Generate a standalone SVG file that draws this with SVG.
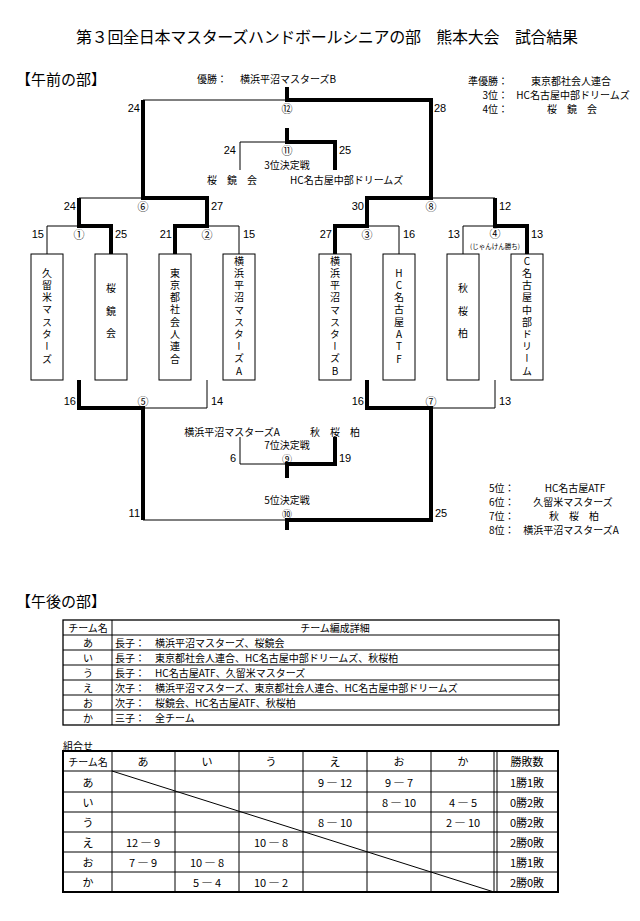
<svg xmlns="http://www.w3.org/2000/svg" width="640" height="921" viewBox="0 0 640 921">
<style>
text{font-family:"Noto Sans CJK JP","Liberation Sans",sans-serif;font-size:10px;fill:#000;dominant-baseline:central}
.n{font-family:"Liberation Sans",sans-serif;font-size:11px}
.c{font-size:11px;text-anchor:middle}
.m{text-anchor:middle}
.e{text-anchor:end}
.h{font-size:15px}
.v{writing-mode:vertical-rl;text-orientation:upright;text-anchor:middle;dominant-baseline:auto}
.thick{stroke:#000;stroke-width:4;fill:none;stroke-linejoin:miter}
.thin{stroke:#000;stroke-width:1;fill:none}
.box{fill:#fff;stroke:#000;stroke-width:1}
.grid{stroke:#000;stroke-width:1;fill:none}
</style>
<rect width="640" height="921" fill="#fff"/>
<text x="327" y="36" style="font-size:16px" class="m" textLength="502">第３回全日本マスターズハンドボールシニアの部　熊本大会　試合結果</text>

<g id="heading-am"><text x="16" y="78" class="h">【午前の部】</text></g>
<g id="results-top">
<text x="197" y="78">優勝：</text><text x="240" y="78">横浜平沼マスターズB</text>
<text x="508" y="80" class="e">準優勝：</text><text x="571" y="80" class="m">東京都社会人連合</text>
<text x="508" y="94" class="e">3位：</text><text x="573" y="94" class="m">HC名古屋中部ドリームズ</text>
<text x="508" y="108" class="e">4位：</text><text x="572" y="108" class="m">桜　鏡　会</text>
</g>

<g id="connectors">
<path class="thick" d="M335,254 V226 H367 V198 H431 V100 H287 V87"/>
<path class="thick" d="M175,254 V226 H207 V198 H143 V100"/>
<path class="thick" d="M111,254 V226 H79 V198"/>
<path class="thick" d="M527,254 V226 H495 V198"/>
<path class="thick" d="M335,170 V142 H287 V128"/>
<path class="thick" d="M79,380 V408 H143 V520"/>
<path class="thick" d="M367,380 V408 H431 V520 H287 V530"/>
<path class="thick" d="M335,437 V464 H287 V478"/>
<path class="thin" d="M143,100 H287"/>
<path class="thin" d="M240,170 V142 H287"/>
<path class="thin" d="M79,198 H143"/>
<path class="thin" d="M431,198 H495"/>
<path class="thin" d="M47,254 V226 H79"/>
<path class="thin" d="M207,226 H239 V254"/>
<path class="thin" d="M367,226 H399 V254"/>
<path class="thin" d="M463,254 V226 H495"/>
<path class="thin" d="M143,408 H207 V380"/>
<path class="thin" d="M431,408 H495 V380"/>
<path class="thin" d="M143,520 H287"/>
<path class="thin" d="M240,437 V464 H287"/>
</g>

<g id="match-labels">
<text x="287" y="108" class="c">⑫</text>
<text x="140" y="108" class="n e">24</text><text x="434" y="108" class="n">28</text>
<text x="287" y="150" class="c">⑪</text>
<text x="236" y="150" class="n e">24</text><text x="339" y="150" class="n">25</text>
<text x="287" y="164" class="m">3位決定戦</text>
<text x="232" y="179" class="m">桜　鏡　会</text>
<text x="290" y="179">HC名古屋中部ドリームズ</text>
<text x="143" y="206" class="c">⑥</text>
<text x="76" y="206" class="n e">24</text><text x="211" y="206" class="n">27</text>
<text x="431" y="206" class="c">⑧</text>
<text x="364" y="206" class="n e">30</text><text x="499" y="206" class="n">12</text>
<text x="79" y="234" class="c">①</text>
<text x="44" y="234" class="n e">15</text><text x="115" y="234" class="n">25</text>
<text x="207" y="234" class="c">②</text>
<text x="172" y="234" class="n e">21</text><text x="243" y="234" class="n">15</text>
<text x="367" y="234" class="c">③</text>
<text x="332" y="234" class="n e">27</text><text x="403" y="234" class="n">16</text>
<text x="495" y="233" class="c">④</text>
<text x="460" y="234" class="n e">13</text><text x="531" y="234" class="n">13</text>
<text x="495" y="246" style="font-size:6.5px" class="m">(じゃんけん勝ち)</text>
<text x="143" y="401" class="c">⑤</text>
<text x="76" y="401" class="n e">16</text><text x="211" y="401" class="n">14</text>
<text x="431" y="401" class="c">⑦</text>
<text x="364" y="401" class="n e">16</text><text x="499" y="401" class="n">13</text>
<text x="232" y="431" class="m">横浜平沼マスターズA</text>
<text x="335" y="431" class="m">秋　桜　柏</text>
<text x="287" y="444" class="m">7位決定戦</text>
<text x="287" y="458" class="m">⑨</text>
<text x="236" y="458" class="n e">6</text><text x="339" y="458" class="n">19</text>
<text x="287" y="499" class="m">5位決定戦</text>
<text x="287" y="513" class="m">⑩</text>
<text x="140" y="513" class="n e">11</text><text x="435" y="513" class="n">25</text>
</g>

<g id="team-1"><rect class="box" x="31" y="254" width="32" height="126"/><text class="v" x="47" y="317" letter-spacing="2.3">久留米マスターズ</text></g>
<g id="team-2"><rect class="box" x="95" y="254" width="32" height="126"/><text class="v" x="111" y="317" letter-spacing="12.5">桜鏡会</text></g>
<g id="team-3"><rect class="box" x="159" y="254" width="32" height="126"/><text class="v" x="175" y="317" letter-spacing="2.3">東京都社会人連合</text></g>
<g id="team-4"><rect class="box" x="223" y="254" width="32" height="126"/><text class="v" x="239" y="317" letter-spacing="2.2">横浜平沼マスターズA</text></g>
<g id="team-5"><rect class="box" x="319" y="254" width="32" height="126"/><text class="v" x="335" y="317" letter-spacing="2.2">横浜平沼マスターズB</text></g>
<g id="team-6"><rect class="box" x="383" y="254" width="32" height="126"/><text class="v" x="399" y="317" letter-spacing="2.3">HC名古屋ATF</text></g>
<g id="team-7"><rect class="box" x="447" y="254" width="32" height="126"/><text class="v" x="463" y="317" letter-spacing="12.5">秋桜柏</text></g>
<g id="team-8"><rect class="box" x="511" y="254" width="32" height="126"/><text class="v" x="527" y="317" letter-spacing="2.2">C名古屋中部ドリーム</text></g>

<g id="results-bottom">
<text x="489" y="487">5位：</text><text x="575" y="487" class="m">HC名古屋ATF</text>
<text x="489" y="501">6位：</text><text x="573" y="501" class="m">久留米マスターズ</text>
<text x="489" y="515">7位：</text><text x="574" y="515" class="m">秋　桜　柏</text>
<text x="489" y="529">8位：</text><text x="571" y="529" class="m">横浜平沼マスターズA</text>
</g>

<g id="heading-pm"><text x="16" y="600" class="h">【午後の部】</text></g>

<g id="team-table">
<rect x="63" y="620" width="496" height="105" fill="none" stroke="#000" stroke-width="1.3"/>
<path class="grid" d="M112,620 V725 M63,635 H559 M63,650 H559 M63,665 H559 M63,680 H559 M63,695 H559 M63,710 H559"/>
<text x="88" y="627.5" class="m">チーム名</text><text x="335" y="627.5" class="m">チーム編成詳細</text>
<text x="88" y="642.5" class="m">あ</text><text x="115" y="642.5">長子：　横浜平沼マスターズ、桜鏡会</text>
<text x="88" y="657.5" class="m">い</text><text x="115" y="657.5">長子：　東京都社会人連合、HC名古屋中部ドリームズ、秋桜柏</text>
<text x="88" y="672.5" class="m">う</text><text x="115" y="672.5">長子：　HC名古屋ATF、久留米マスターズ</text>
<text x="88" y="687.5" class="m">え</text><text x="115" y="687.5">次子：　横浜平沼マスターズ、東京都社会人連合、HC名古屋中部ドリームズ</text>
<text x="88" y="702.5" class="m">お</text><text x="115" y="702.5">次子：　桜鏡会、HC名古屋ATF、秋桜柏</text>
<text x="88" y="717.5" class="m">か</text><text x="115" y="717.5">三子：　全チーム</text>
</g>

<g id="match-table">
<text x="63" y="745">組合せ</text>
<path class="grid" d="M112,751 V892 M175,751 V892 M239,751 V892 M303,751 V892 M367,751 V892 M431,751 V892 M494,751 V892 M497,751 V892 M63,771 H558 M63,792 H558 M63,812 H558 M63,832 H558 M63,852 H558 M63,872 H558"/>
<path class="grid" d="M112,771 L494,892"/>
<rect x="63" y="751" width="495" height="141" fill="none" stroke="#000" stroke-width="2"/>
<text x="88" y="761" class="m">チーム名</text>
<text x="143" y="761" class="c">あ</text><text x="207" y="761" class="c">い</text><text x="271" y="761" class="c">う</text><text x="335" y="761" class="c">え</text><text x="399" y="761" class="c">お</text><text x="463" y="761" class="c">か</text><text x="527" y="761" class="c">勝敗数</text>
<text x="88" y="781.5" class="c">あ</text><text x="335" y="781.5" class="c">9 ― 12</text><text x="399" y="781.5" class="c">9 ― 7</text><text x="527" y="781.5" class="c">1勝1敗</text>
<text x="88" y="802" class="c">い</text><text x="399" y="802" class="c">8 ― 10</text><text x="463" y="802" class="c">4 ― 5</text><text x="527" y="802" class="c">0勝2敗</text>
<text x="88" y="822" class="c">う</text><text x="335" y="822" class="c">8 ― 10</text><text x="463" y="822" class="c">2 ― 10</text><text x="527" y="822" class="c">0勝2敗</text>
<text x="88" y="842" class="c">え</text><text x="143" y="842" class="c">12 ― 9</text><text x="271" y="842" class="c">10 ― 8</text><text x="527" y="842" class="c">2勝0敗</text>
<text x="88" y="862" class="c">お</text><text x="143" y="862" class="c">7 ― 9</text><text x="207" y="862" class="c">10 ― 8</text><text x="527" y="862" class="c">1勝1敗</text>
<text x="88" y="882" class="c">か</text><text x="207" y="882" class="c">5 ― 4</text><text x="271" y="882" class="c">10 ― 2</text><text x="527" y="882" class="c">2勝0敗</text>
</g>
</svg>
